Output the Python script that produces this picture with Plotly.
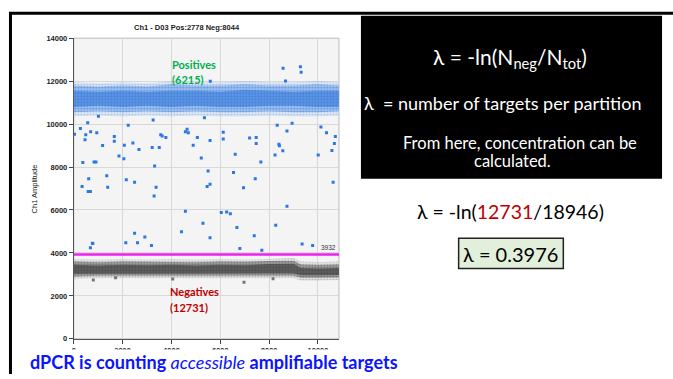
import plotly.graph_objects as go

W, H = 673, 379

# ---------------- data ----------------
x_ticks = [0, 2000, 4000, 6000, 8000, 10000]
y_ticks = [0, 2000, 4000, 6000, 8000, 10000, 12000, 14000]
threshold = 3932

# dense droplet bands (edges)
pos_band_x = [0, 1000, 2000, 3000, 4000, 5000, 6000, 7000, 8000, 9000, 10000, 10860]
pos_edge_hi = [11950, 11900, 11950, 11900, 12000, 11950, 11950, 12000, 11950, 11950, 12000, 11950]
pos_edge_lo = [10350, 10400, 10350, 10400, 10350, 10400, 10350, 10350, 10400, 10350, 10350, 10400]
pos_outer_hi = [11800, 11750, 11800, 11750, 11850, 11800, 11800, 11850, 11800, 11800, 11850, 11800]
pos_outer_lo = [10550, 10600, 10550, 10600, 10550, 10600, 10550, 10550, 10600, 10550, 10550, 10600]
pos_core_hi = [11550, 11500, 11550, 11500, 11550, 11550, 11500, 11600, 11550, 11500, 11550, 11550]
pos_core_lo = [10800, 10850, 10800, 10850, 10800, 10850, 10800, 10800, 10850, 10850, 10800, 10800]

neg_band_x = [0, 1000, 2000, 3000, 4000, 5000, 6000, 7000, 8000, 9000, 9300, 10000, 10860]
neg_edge_hi = [3720, 3700, 3720, 3700, 3720, 3700, 3720, 3700, 3720, 3760, 3600, 3580, 3600]
neg_edge_lo = [2780, 2820, 2800, 2820, 2820, 2800, 2820, 2800, 2820, 2820, 2720, 2720, 2740]
neg_outer_hi = [3600, 3570, 3600, 3590, 3600, 3570, 3600, 3590, 3620, 3640, 3460, 3440, 3460]
neg_outer_lo = [2900, 2940, 2920, 2940, 2940, 2920, 2940, 2920, 2940, 2940, 2840, 2840, 2860]
neg_core_hi = [3450, 3420, 3450, 3430, 3450, 3420, 3450, 3430, 3480, 3500, 3300, 3280, 3300]
neg_core_lo = [3030, 3060, 3040, 3060, 3060, 3040, 3060, 3040, 3060, 3060, 2960, 2960, 2970]

# sparse droplets (rain)
rain_x = [30, 490, 690, 940, 460, 370, 830, 910, 1180, 1660, 1660, 1850, 2050, 2070, 2420,
          2670, 3210, 3500, 3560, 3620, 3770, 4570, 4690, 5060, 4890, 5580, 6120, 6120, 5220,
          6610, 7200, 7470, 7470, 7660, 8730, 8400, 8420, 8560, 8240, 10010, 10350, 10710,
          10670, 10570,
          340, 610, 590, 680, 1350, 1390, 2150, 2490, 3310, 3370, 3290, 5500, 5460, 5580,
          6540, 6950, 7430, 8730, 10620,
          4570, 6040, 6260, 6410, 5290, 4410, 6680, 8270, 5580, 2490, 2130, 2610, 2910, 3180,
          760, 680, 6800, 7390, 7700, 9350, 9780, 780,
          8570, 9280, 9310, 8670, 5590,
          270, 570, 1010, 2230, 3250, 4640, 5350, 8330, 8940, 10120]
rain_y = [9530, 9500, 9640, 9600, 9270, 8210, 8230, 8240, 9000, 9420, 9200, 8510, 8390, 9010, 9120,
          8820, 8910, 8910, 9500, 9440, 9380, 9640, 9600, 9380, 9010, 9240, 9620, 9300, 8420,
          8600, 9350, 9380, 9100, 8240, 9680, 9060, 8990, 8760, 8560, 8560, 9600, 9420,
          9090, 8770,
          7090, 7450, 6860, 6860, 7600, 7060, 7410, 7290, 8050, 7060, 6650, 7820, 7090, 7200,
          7740, 7040, 7450, 6170, 7290,
          5940, 5880, 5910, 5830, 5380, 4990, 5180, 5290, 4710, 4920, 4470, 4470, 4740, 4350,
          4450, 4240, 4210, 4800, 4120, 4420, 4350, 4440,
          12600, 12670, 12410, 12010, 12000,
          9800, 10060, 10360, 9950, 10190, 9760, 10290, 9950, 10040, 9860]

neg_out_x = [800, 1710, 4050, 6970, 8160]
neg_out_y = [2740, 2850, 2790, 2640, 2800]


def px(x):
    return x / W


def py(y):
    return 1 - y / H


def poly(xs, hi, lo):
    return list(xs) + list(xs[::-1]) + [xs[0]], list(hi) + list(lo[::-1]) + [hi[0]]


fig = go.Figure()


def band(xs, hi, lo, fg, bg, size, sol):
    bx, by = poly(xs, hi, lo)
    fig.add_trace(go.Scatter(x=bx, y=by, mode="lines", line=dict(width=0), fill="toself",
                             fillpattern=dict(shape=".", fgcolor=fg, bgcolor=bg, size=size,
                                              solidity=sol),
                             hoverinfo="skip", showlegend=False))


# positive band (edge -> outer -> core)
band(pos_band_x, pos_edge_hi, pos_edge_lo, "#4a8ae2", "rgba(180,205,240,0.35)", 3, 0.25)
band(pos_band_x, pos_outer_hi, pos_outer_lo, "#2a72dc", "rgba(140,180,235,0.7)", 3, 0.4)
band(pos_band_x, pos_core_hi, pos_core_lo, "#1d68d6", "#6499e4", 3, 0.45)
# negative band
band(neg_band_x, neg_edge_hi, neg_edge_lo, "#707070", "rgba(190,190,190,0.35)", 3, 0.25)
band(neg_band_x, neg_outer_hi, neg_outer_lo, "#4a4a4a", "rgba(135,135,135,0.75)", 3, 0.4)
band(neg_band_x, neg_core_hi, neg_core_lo, "#3a3a3a", "#606060", 3, 0.45)

fig.add_trace(go.Scatter(x=rain_x, y=rain_y, mode="markers",
                         marker=dict(symbol="square", size=3, color="#2a78e0", line=dict(width=0)),
                         showlegend=False))
fig.add_trace(go.Scatter(x=neg_out_x, y=neg_out_y, mode="markers",
                         marker=dict(symbol="square", size=3, color="#777777", line=dict(width=0)),
                         showlegend=False))
# threshold
fig.add_trace(go.Scatter(x=[0, 10860], y=[threshold, threshold], mode="lines",
                         line=dict(color="#ee22ee", width=2.5), showlegend=False))

tick_font = dict(family="Liberation Sans, Arial", size=7.5, color="#222222", weight="bold")
fig.update_layout(
    width=W, height=H, margin=dict(l=0, r=0, t=0, b=0),
    paper_bgcolor="white", plot_bgcolor="#f4f4f4",
    xaxis=dict(domain=[px(72), px(338)], range=[0, 10860], tickvals=x_ticks,
               ticktext=[str(v) for v in x_ticks], ticks="outside", ticklen=4,
               tickcolor="#444", showline=True, linecolor="#555", linewidth=1,
               gridcolor="#d8d8d8", gridwidth=1, zeroline=False, tickfont=tick_font),
    yaxis=dict(domain=[py(343), py(35)], range=[0, 14000], tickvals=y_ticks,
               ticktext=[str(v) for v in y_ticks], ticks="outside", ticklen=4,
               tickcolor="#444", showline=True, linecolor="#555", linewidth=1,
               gridcolor="#d8d8d8", gridwidth=1, zeroline=False, tickfont=tick_font),
    font=dict(family="Lato"),
)

shapes = []
shapes.append(dict(type="rect", xref="paper", yref="paper", x0=px(72), x1=px(338), y0=py(343),
                   y1=py(35), line=dict(color="#bbbbbb", width=1), layer="below"))
# white strip hiding lower half of x tick labels (text box of the caption)
shapes.append(dict(type="rect", xref="paper", yref="paper", x0=px(20), x1=px(400), y0=0, y1=py(354),
                   fillcolor="white", line=dict(width=0), layer="above"))
# slide frame lines
shapes.append(dict(type="line", xref="paper", yref="paper", x0=px(7), x1=1, y0=py(9.5), y1=py(9.5),
                   line=dict(color="black", width=3)))
shapes.append(dict(type="line", xref="paper", yref="paper", x0=px(8.5), x1=px(8.5), y0=py(9.5), y1=0,
                   line=dict(color="black", width=3)))
# black box
shapes.append(dict(type="rect", xref="paper", yref="paper", x0=px(360), x1=px(662), y0=py(179),
                   y1=py(12), fillcolor="black", line=dict(width=0)))
# result box
shapes.append(dict(type="rect", xref="paper", yref="paper", x0=px(458), x1=px(563), y0=py(271),
                   y1=py(240), fillcolor="#e2efda", line=dict(color="#222222", width=1.5)))
fig.update_layout(shapes=shapes)

ann = []


def A(text, x, y, size, color="black", xanchor="center", family="Lato", **kw):
    ann.append(dict(text=text, x=px(x), y=py(y), xref="paper", yref="paper", showarrow=False,
                    xanchor=xanchor, yanchor="middle", font=dict(size=size, color=color, family=family),
                    **kw))


A("<b>Ch1 - D03 Pos:2778 Neg:8044</b>", 186, 24, 7.5, "#222", family="Liberation Sans")
A("Ch1 Amplitude", 33, 189, 7.5, "#222", family="Liberation Sans", textangle=-90)
A("3932", 337, 249, 6.5, "#333", xanchor="right", family="Liberation Sans")
A("<b>Positives</b>", 169, 62, 11, "#00b050", xanchor="left")
A("<b>(6215)</b>", 169, 77, 11, "#00b050", xanchor="left")
A("<b>Negatives</b>", 166, 295, 11, "#c00000", xanchor="left")
A("<b>(12731)</b>", 166, 311, 11, "#c00000", xanchor="left")
A("<b>dPCR is counting </b><i>accessible</i><b> amplifiable targets</b>", 26, 367, 18, "#0a14ff",
  xanchor="left")

A("λ = -ln(N<sub>neg</sub>/N<sub>tot</sub>)", 510, 55, 21, "white")
A("λ\u00a0\u00a0= number of targets per partition", 502, 101, 18, "white")
A("From here, concentration can be", 520, 142, 16.5, "white")
A("calculated.", 512, 161, 16.5, "white")
A("λ = -ln(<span style='color:#c00000'>12731</span>/18946)", 510, 213, 19.5, "black")
A("λ = 0.3976", 510, 256, 20, "black")
fig.update_layout(annotations=ann)

fig.write_html("out.html", config={"displayModeBar": False},
               post_script="document.body.style.margin='0';document.body.style.overflow='hidden';")
